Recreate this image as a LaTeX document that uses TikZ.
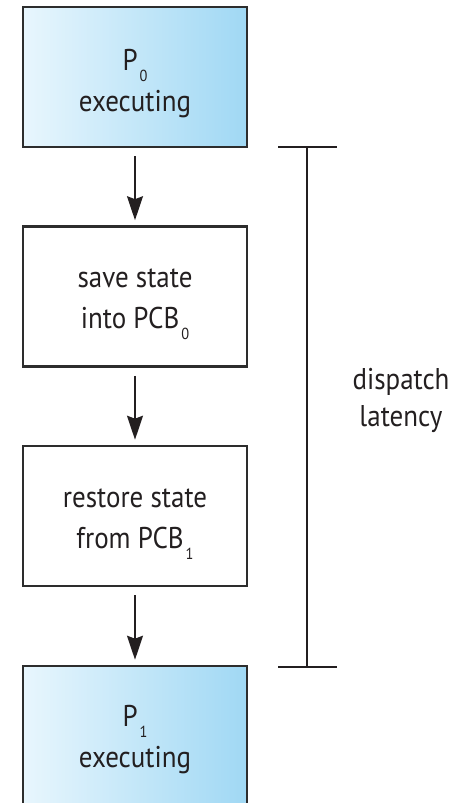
\documentclass[tikz,border=0pt]{standalone}
\usepackage{fontspec}
\setmainfont[FakeStretch=0.9]{PT Sans}
\usetikzlibrary{arrows.meta}
\definecolor{ink}{RGB}{35,31,32}
\definecolor{edge}{RGB}{45,45,45}
\definecolor{lightL}{RGB}{232,246,253}
\definecolor{lightR}{RGB}{160,216,244}
\newcommand{\sub}[1]{\kern2pt\raisebox{-11pt}{\fontsize{16}{16}\selectfont #1}}
\tikzset{
  box/.style={draw=edge, line width=2.6pt, minimum width=224pt, minimum height=140pt, inner sep=0pt},
  procbox/.style={box, left color=lightL, right color=lightR},
  txt/.style={anchor=base, inner sep=0pt, align=center, text=ink, font=\fontsize{30}{41}\selectfont},
  arr/.style={draw=ink, line width=1.8pt, -{Stealth[length=24pt, width=16pt, inset=3pt]}},
  brk/.style={draw=ink, line width=2.2pt},
  lbl/.style={text=ink, align=center, font=\fontsize{30}{37}\selectfont}
}
\begin{document}
\begin{tikzpicture}[x=1pt, y=-1pt]
\useasboundingbox (0,0) rectangle (452,803);
\clip (0,0) rectangle (452,803);
\node[procbox] (b1) at (135,77) {};
\node[box] (b2) at (135,296.5) {};
\node[box] (b3) at (135,516) {};
\node[procbox] (b4) at (135,736) {};
\node[txt] (t1) at (135,111) {P\sub{0}\\executing};
\node[txt] (t2) at (135,328) {save state\\into PCB\sub{0}};
\node[txt] (t3) at (135,548) {restore state\\from PCB\sub{1}};
\node[txt] (t4) at (135,767) {P\sub{1}\\executing};
\draw[arr] ([yshift=-8pt]b1.south) -- ([yshift=5pt]b2.north);
\draw[arr] ([yshift=-8pt]b2.south) -- ([yshift=5pt]b3.north);
\draw[arr] ([yshift=-8pt]b3.south) -- ([yshift=5pt]b4.north);
\coordinate (tl) at (278,147);
\coordinate (tr) at (337,147);
\coordinate (bl) at (278,667);
\coordinate (br) at (337,667);
\coordinate (tm) at (307,147);
\coordinate (bm) at (307,667);
\draw[brk] (tl) -- (tr);
\draw[brk] (bl) -- (br);
\draw[brk] (tm) -- (bm);
\node[lbl] (lat) at (401,400) {dispatch\\latency};
\end{tikzpicture}
\end{document}
